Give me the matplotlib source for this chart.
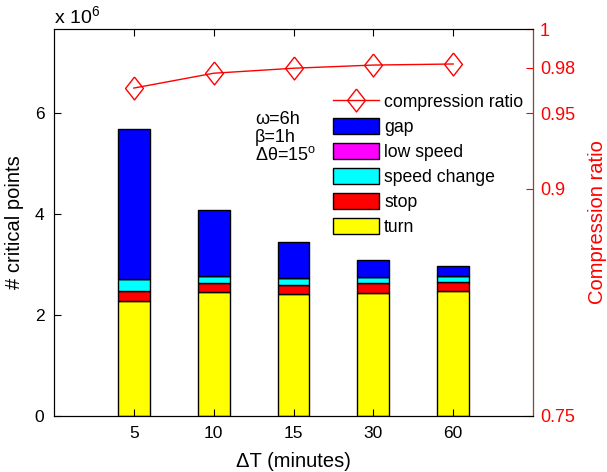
import numpy as np
import matplotlib.pyplot as plt
from matplotlib.patches import Patch
from matplotlib.lines import Line2D

plt.rcParams['font.family'] = ['Liberation Sans', 'DejaVu Sans']
plt.rcParams['mathtext.fontset'] = 'custom'
plt.rcParams['mathtext.rm'] = 'Liberation Sans'
plt.rcParams['mathtext.it'] = 'Liberation Sans:italic'
plt.rcParams['font.size'] = 12.5

# data (x 10^6 critical points)
categories = ['5', '10', '15', '30', '60']
turn = [2.28, 2.45, 2.41, 2.44, 2.475]
stop = [0.19, 0.18, 0.185, 0.185, 0.18]
speed_change = [0.25, 0.145, 0.135, 0.12, 0.11]
low_speed = [0.0, 0.0, 0.0, 0.0, 0.0]
gap = [2.96, 1.31, 0.705, 0.34, 0.20]
compression = [0.9666, 0.9764, 0.9797, 0.9818, 0.9825]

series = [('turn', turn, '#ffff00'),
          ('stop', stop, '#ff0000'),
          ('speed change', speed_change, '#00ffff'),
          ('low speed', low_speed, '#ff00ff'),
          ('gap', gap, '#0000ff')]

fig = plt.figure(figsize=(6.07, 4.72), dpi=100)
ax1 = fig.add_axes([54/607, 1-416/472, 479/607, 387/472])
x = np.arange(1, len(categories) + 1)

# stacked bars
bottom = np.zeros(len(categories))
for name, vals, col in series:
    v = np.array(vals) * 1e6
    ax1.bar(x, v, 0.4, bottom=bottom, color=col, edgecolor='black', linewidth=1)
    bottom += v

ax1.set_xlim(0, 6)
ax1.set_ylim(0, 7.66e6)
ax1.set_xticks(x)
ax1.set_xticklabels(categories)
ax1.set_yticks([0, 2e6, 4e6, 6e6])
ax1.set_yticklabels(['0', '2', '4', '6'])
ax1.tick_params(direction='in', top=True, right=True, length=5, labelsize=12.5, pad=7)
ax1.set_xlabel('ΔT (minutes)', fontsize=14.5, labelpad=8)
ax1.set_ylabel('# critical points', fontsize=14.5, labelpad=8)
fig.text(54/607, 1-16/472, r'$\mathregular{x\ 10^{6}}$', fontsize=14, ha='left', va='center')

# compression ratio on right axis
ax2 = ax1.twinx()
top_r = 0.75 + 387/1514
ax2.set_ylim(0.75, top_r)
diamond = [(0, 1), (0.78, 0), (0, -1), (-0.78, 0), (0, 1)]
ax2.plot(x, compression, color='red', linewidth=1, marker=diamond, markersize=16.5,
         markerfacecolor='none', markeredgecolor='red', markeredgewidth=1)
ax2.set_yticks([0.75, 0.9, 0.95, 0.98, top_r])
ax2.set_yticklabels(['0.75', '0.9', '0.95', '0.98', '1'])
ax2.tick_params(axis='y', direction='in', length=5, colors='red', labelsize=13, pad=5)
ax2.spines['right'].set_color('#c8281e')
ax2.set_ylabel('Compression ratio', color='red', fontsize=14.5, labelpad=9)

ax1.text((255-54)/479, 1-(111-29)/387, 'ω=6h\nβ=1h\nΔθ=15$^{\\mathrm{o}}$', transform=ax1.transAxes,
         ha='left', va='top', fontsize=13, linespacing=1.05)

handles = [Line2D([], [], color='red', linewidth=1, marker=diamond, markersize=16.5,
                  markerfacecolor='none', markeredgecolor='red')]
for name, vals, col in reversed(series):
    handles.append(Patch(facecolor=col, edgecolor='black', linewidth=1, label=name))
labels = ['compression ratio', 'gap', 'low speed', 'speed change', 'stop', 'turn']
ax2.legend(handles, labels, loc='upper left', bbox_to_anchor=(333/607, 1-93/472),
           bbox_transform=fig.transFigure, frameon=False, fontsize=12.7,
           handlelength=2.6, handleheight=1.05, labelspacing=0.38, borderpad=0,
           handletextpad=0.3, borderaxespad=0)

fig.savefig('out.png', dpi=100)
